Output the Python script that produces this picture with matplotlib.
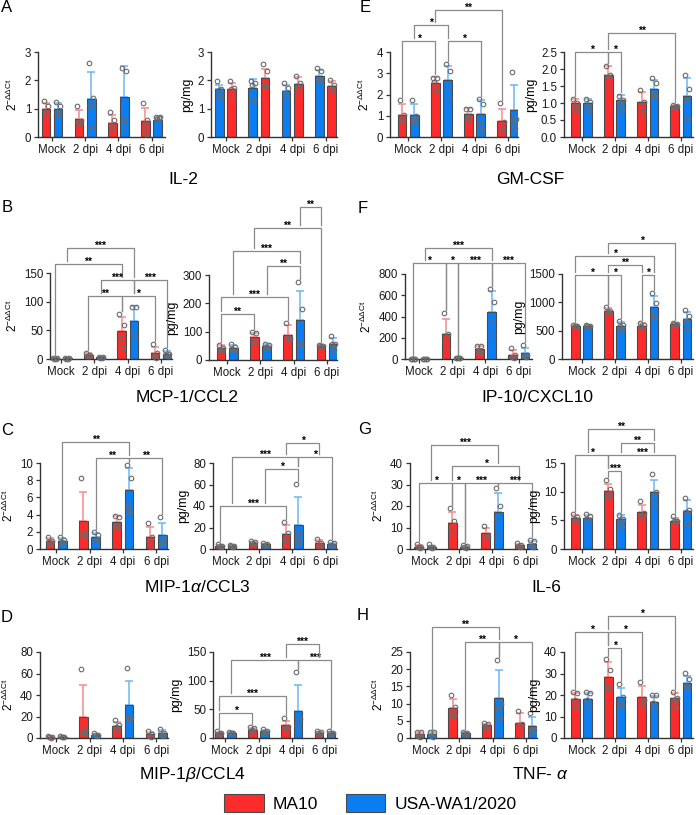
import matplotlib
matplotlib.use('Agg')
import matplotlib.pyplot as plt
from matplotlib.patches import Patch
import numpy as np

plt.rcParams['font.family'] = ['Liberation Sans', 'DejaVu Sans']
plt.rcParams['mathtext.fontset'] = 'custom'
plt.rcParams['mathtext.rm'] = 'Liberation Sans'
plt.rcParams['mathtext.it'] = 'Liberation Sans:italic'

groups = ['Mock', '2 dpi', '4 dpi', '6 dpi']

# ---- IL-2 ----
il2_pcr_ma10 = [1.0, 0.65, 0.5, 0.55]
il2_pcr_ma10_sd = [0.2, 0.3, 0.28, 0.47]
il2_pcr_ma10_pts = [[1.26, 1.1, 0.9, 0.79], [1.08, 0.55, 0.52, 0.5], [0.87, 0.59, 0.44, 0.32], [1.2, 0.61, 0.4, 0.1]]
il2_pcr_wa1 = [1.0, 1.35, 1.41, 0.61]
il2_pcr_wa1_sd = [0.2, 0.94, 1.08, 0.1]
il2_pcr_wa1_pts = [[1.25, 1.1, 0.9, 0.8], [2.6, 1.38, 1.08, 0.35], [2.44, 2.32, 0.59, 0.35], [0.7, 0.7, 0.65, 0.67]]
il2_pcr_sig = []

il2_elisa_ma10 = [1.69, 2.09, 1.88, 1.81]
il2_elisa_ma10_sd = [0.2, 0.3, 0.25, 0.15]
il2_elisa_ma10_pts = [[1.96, 1.73, 1.7, 1.4], [2.58, 2.32, 1.85, 1.81], [2.14, 1.9, 1.76, 1.55], [2.0, 1.85, 1.69, 1.67]]
il2_elisa_wa1 = [1.69, 1.73, 1.64, 2.16]
il2_elisa_wa1_sd = [0.15, 0.3, 0.2, 0.2]
il2_elisa_wa1_pts = [[1.96, 1.7, 1.67, 1.4], [1.96, 1.9, 1.85, 1.29], [1.91, 1.73, 1.55, 1.4], [2.44, 2.32, 2.02, 1.96]]
il2_elisa_sig = []

# ---- GM-CSF ----
gmcsf_pcr_ma10 = [1.05, 2.54, 1.1, 0.75]
gmcsf_pcr_ma10_sd = [0.48, 0.28, 0.26, 0.58]
gmcsf_pcr_ma10_pts = [[1.73, 1.02, 0.82, 0.74], [2.79, 2.79, 2.59, 2.2], [1.33, 1.3, 0.95, 0.82], [1.6, 0.7, 0.39, 0.35]]
gmcsf_pcr_wa1 = [1.05, 2.7, 1.1, 1.25]
gmcsf_pcr_wa1_sd = [0.48, 0.66, 0.63, 1.18]
gmcsf_pcr_wa1_pts = [[1.73, 1.0, 0.8, 0.72], [3.45, 3.1, 2.35, 1.9], [1.77, 1.57, 0.66, 0.31], [3.06, 0.86, 0.78, 0.44]]
gmcsf_pcr_sig = [(0, 2, 4.52, '*'), (1, 3, 5.25, '*'), (3, 5, 4.52, '*'), (2, 6, 5.99, '**')]

gmcsf_elisa_ma10 = [1.0, 1.83, 1.03, 0.9]
gmcsf_elisa_ma10_sd = [0.13, 0.26, 0.3, 0.03]
gmcsf_elisa_ma10_pts = [[1.13, 1.0, 0.9, 0.8], [2.1, 1.81, 1.76, 1.47], [1.39, 1.03, 0.88, 0.74], [0.93, 0.9, 0.89, 0.88]]
gmcsf_elisa_wa1 = [1.0, 1.08, 1.42, 1.2]
gmcsf_elisa_wa1_sd = [0.13, 0.16, 0.25, 0.53]
gmcsf_elisa_wa1_pts = [[1.13, 1.03, 0.9, 0.8], [1.22, 1.08, 1.0, 0.8], [1.75, 1.59, 1.27, 1.22], [1.81, 1.42, 1.08, 0.54]]
gmcsf_elisa_sig = [(0, 2, 2.5, '*'), (2, 3, 2.5, '*'), (2, 6, 3.07, '**')]

# ---- MCP-1/CCL2 ----
mcp1_pcr_ma10 = [1.0, 7.0, 48, 10.5]
mcp1_pcr_ma10_sd = [1.0, 3.0, 26, 11]
mcp1_pcr_ma10_pts = [[2.0, 1.2, 0.5, 0.3], [10.5, 7.6, 5.8, 4.7], [79, 60, 37, 19], [26, 10.5, 4.7, 1.7]]
mcp1_pcr_wa1 = [1.0, 3.0, 66, 8.7]
mcp1_pcr_wa1_sd = [0.8, 1.0, 27, 4.5]
mcp1_pcr_wa1_pts = [[1.8, 1.2, 0.6, 0.4], [4, 3.2, 2.6, 2.2], [91, 91, 45, 38], [15, 8.7, 6.4, 4.7]]
mcp1_pcr_sig = [(0, 4, 166, '**'), (1, 5, 193.6, '***'), (3, 5, 138, '***'),
                (2, 4, 110.5, '**'), (4, 6, 110.5, '*'), (5, 7, 138, '***')]

mcp1_elisa_ma10 = [43, 80.5, 90, 51]
mcp1_elisa_ma10_sd = [9, 15, 33, 3]
mcp1_elisa_ma10_pts = [[54, 43, 37, 31], [98, 96, 65, 65], [132, 78, 76, 74], [54, 51, 50, 49]]
mcp1_elisa_wa1 = [43, 49, 142, 58]
mcp1_elisa_wa1_sd = [9, 8, 100, 19]
mcp1_elisa_wa1_pts = [[56, 45, 38, 33], [58, 52, 45, 41], [277, 180, 56, 55], [83, 58, 55, 37]]
mcp1_elisa_sig = [(0, 2, 163, '**'), (0, 4, 222, '***'), (3, 5, 331, '**'),
                  (1, 5, 385, '***'), (2, 6, 466, '**'), (5, 6, 539, '**')]

# ---- IP-10/CXCL10 ----
ip10_pcr_ma10 = [2, 232, 94, 41]
ip10_pcr_ma10_sd = [1, 140, 25, 40]
ip10_pcr_ma10_pts = [[3, 2, 1.5, 1], [431, 237, 166, 94], [125, 119, 72, 62], [103, 35, 15, 10]]
ip10_pcr_wa1 = [2, 8, 444, 56]
ip10_pcr_wa1_sd = [1, 4, 200, 45]
ip10_pcr_wa1_pts = [[3, 2, 1.5, 1], [12, 9, 6, 5], [656, 541, 353, 228], [134, 40, 28, 22]]
ip10_pcr_sig = [(1, 5, 1047, '***'), (0, 2, 900, '*'), (2, 3, 900, '*'),
                (3, 5, 900, '***'), (5, 7, 900, '***')]

ip10_elisa_ma10 = [586, 850, 586, 615]
ip10_elisa_ma10_sd = [20, 45, 45, 20]
ip10_elisa_ma10_pts = [[603, 586, 580, 574], [925, 855, 838, 820], [633, 603, 574, 527], [633, 615, 610, 603]]
ip10_elisa_wa1 = [586, 586, 925, 703]
ip10_elisa_wa1_sd = [20, 60, 190, 130]
ip10_elisa_wa1_pts = [[603, 590, 580, 571], [662, 603, 574, 505], [1160, 996, 762, 750], [867, 762, 662, 521]]
ip10_elisa_sig = [(0, 2, 1482, '*'), (2, 3, 1482, '*'), (4, 5, 1482, '*'),
                  (2, 4, 1658, '**'), (0, 5, 1816, '*'), (2, 6, 2050, '*')]

# ---- MIP-1a/CCL3 ----
mip1a_pcr_ma10 = [0.97, 3.28, 3.17, 1.35]
mip1a_pcr_ma10_sd = [0.3, 3.3, 0.65, 1.2]
mip1a_pcr_ma10_pts = [[1.43, 0.97, 0.85, 0.73], [8.2, 1.9, 1.74, 1.6], [3.82, 3.74, 2.7, 2.59], [3.05, 1.35, 0.97, 0.27]]
mip1a_pcr_wa1 = [0.97, 1.43, 6.83, 1.62]
mip1a_pcr_wa1_sd = [0.3, 0.45, 2.6, 1.4]
mip1a_pcr_wa1_pts = [[1.43, 1.04, 0.85, 0.73], [2.0, 1.6, 1.04, 1.04], [9.73, 8.3, 5.0, 4.3], [3.74, 1.24, 0.66, 0.66]]
mip1a_pcr_sig = [(1, 5, 12.43, '**'), (3, 5, 10.6, '**'), (5, 7, 10.6, '**')]

mip1a_elisa_ma10 = [3.1, 5.9, 14, 5.3]
mip1a_elisa_ma10_sd = [0.8, 1.0, 8, 3]
mip1a_elisa_ma10_pts = [[4.4, 3.1, 2.8, 2.2], [7.5, 6.2, 5.3, 4.7], [25.5, 15.3, 8.4, 7.8], [9.3, 5.3, 3.7, 2.8]]
mip1a_elisa_wa1 = [3.1, 4.4, 22.4, 4.7]
mip1a_elisa_wa1_sd = [0.7, 0.6, 25.6, 1.3]
mip1a_elisa_wa1_pts = [[3.8, 3.1, 2.8, 2.2], [5.3, 4.7, 3.9, 3.4], [60.7, 14.6, 9, 6.8], [6.8, 5.3, 3.7, 3.0]]
mip1a_elisa_sig = [(0, 4, 40.2, '***'), (3, 5, 74.4, '*'), (1, 5, 85.6, '***'),
                   (5, 7, 85.6, '*'), (4, 6, 98.7, '*')]

# ---- IL-6 ----
il6_pcr_ma10 = [1.1, 12, 7.3, 1.9]
il6_pcr_ma10_sd = [0.6, 5, 2.6, 0.6]
il6_pcr_ma10_pts = [[2.2, 1.0, 0.7, 0.5], [19, 13.2, 9.2, 7.3], [10.7, 6.1, 5.8, 5.8], [2.6, 1.9, 1.4, 1.1]]
il6_pcr_wa1 = [1.1, 1.1, 17.1, 2.3]
il6_pcr_wa1_sd = [0.5, 0.4, 9, 1.5]
il6_pcr_wa1_pts = [[2.2, 1.1, 0.8, 0.5], [1.9, 1.2, 0.8, 0.5], [28.3, 20, 13.9, 6.5], [4.2, 3.9, 1.4, 1.1]]
il6_pcr_sig = [(1, 5, 48.2, '***'), (2, 6, 38.4, '*'), (0, 2, 30.7, '*'),
               (2, 3, 30.7, '*'), (3, 5, 30.7, '***'), (5, 7, 30.7, '***')]

il6_elisa_ma10 = [5.49, 10.2, 6.4, 4.96]
il6_elisa_ma10_sd = [0.5, 1.2, 1.2, 0.5]
il6_elisa_ma10_pts = [[6.1, 5.66, 5.2, 4.8], [12, 10.4, 9.5, 9.3], [8.3, 6.2, 5.8, 5.66], [5.78, 4.96, 4.8, 4.8]]
il6_elisa_wa1 = [5.49, 5.2, 9.87, 6.7]
il6_elisa_wa1_sd = [0.5, 0.8, 2.2, 1.8]
il6_elisa_wa1_pts = [[6.1, 5.8, 5.2, 4.8], [6.0, 5.2, 5.08, 4.0], [13, 10, 8.7, 7.7], [8.87, 6.8, 6.5, 4.4]]
il6_elisa_sig = [(2, 3, 13.54, '***'), (0, 2, 16.46, '*'), (2, 6, 16.46, '***'),
                 (3, 5, 18.5, '**'), (1, 5, 21, '**')]

# ---- MIP-1b/CCL4 ----
mip1b_pcr_ma10 = [1.0, 19.5, 10.9, 3.4]
mip1b_pcr_ma10_sd = [0.8, 30, 4, 2.5]
mip1b_pcr_ma10_pts = [[2, 1, 0.6, 0.4], [64.5, 7.1, 5.6, 4.6], [17, 11.8, 10.2, 7.1], [6.5, 3.4, 2, 1.2]]
mip1b_pcr_wa1 = [1.0, 3.1, 30.4, 4.6]
mip1b_pcr_wa1_sd = [0.6, 1, 23, 3]
mip1b_pcr_wa1_pts = [[1.8, 1, 0.7, 0.5], [4.6, 3.2, 2.5, 2], [65.4, 19.5, 19, 18], [8.7, 4.6, 2.5, 2]]
mip1b_pcr_sig = []

mip1b_elisa_ma10 = [9.3, 14.5, 22, 9.3]
mip1b_elisa_ma10_sd = [2, 3, 7, 2]
mip1b_elisa_ma10_pts = [[12.2, 9.3, 7.6, 7.6], [19.2, 17.4, 14.5, 12.2], [34.9, 19, 17.5, 16.5], [12.2, 10.5, 8.7, 7.6]]
mip1b_elisa_wa1 = [9.3, 12.2, 46.5, 9.3]
mip1b_elisa_wa1_sd = [2, 2, 46, 2]
mip1b_elisa_wa1_pts = [[10.5, 9.3, 8.7, 8.1], [16.3, 12.8, 11.0, 9.3], [115, 33.7, 22, 15.3], [12.2, 9.3, 8.7, 7.6]]
mip1b_elisa_sig = [(0, 2, 43.6, '*'), (0, 4, 72.7, '***'), (1, 5, 136.6, '***'),
                   (5, 7, 136.6, '***'), (4, 6, 164.5, '***')]

# ---- TNF-a ----
tnf_pcr_ma10 = [1.07, 8.65, 3.7, 4.36]
tnf_pcr_ma10_sd = [0.6, 2.7, 0.5, 2.9]
tnf_pcr_ma10_pts = [[1.74, 1.6, 0.6, 0.35], [12.4, 9, 6.9, 6.3], [4.4, 4.2, 3.5, 2.9], [7.85, 4.2, 3.7, 0.78]]
tnf_pcr_wa1 = [1.07, 1.45, 11.7, 3.4]
tnf_pcr_wa1_sd = [0.6, 0.2, 8.1, 2.6]
tnf_pcr_wa1_pts = [[1.74, 1.6, 0.6, 0.35], [1.7, 1.5, 1.3, 1.3], [22.8, 10, 8.5, 5.9], [7.3, 2.4, 2.2, 2.0]]
tnf_pcr_sig = [(1, 5, 32.3, '**'), (3, 5, 27.9, '**'), (5, 7, 27.9, '*')]

tnf_elisa_ma10 = [18, 28.4, 19, 18.5]
tnf_elisa_ma10_sd = [2.9, 6.9, 5.3, 2.2]
tnf_elisa_ma10_pts = [[21.2, 20.9, 17.7, 14.6], [36.9, 31.8, 23.7, 23.2], [26, 17.5, 16.5, 16], [21.6, 18.5, 17.7, 14.3]]
tnf_elisa_wa1 = [18, 19, 16.9, 25.6]
tnf_elisa_wa1_sd = [2.9, 4.2, 2.8, 3.1]
tnf_elisa_wa1_pts = [[21.2, 20.9, 17.7, 14.6], [25.3, 19, 16.5, 14.9], [20, 20, 16.5, 14.6], [30.3, 27.5, 24, 23.7]]
tnf_elisa_sig = [(2, 3, 42, '*'), (0, 2, 49.1, '*'), (2, 4, 49.1, '*'), (2, 6, 56.9, '*')]

RED, BLUE = '#ff2b2b', '#0b7df3'
RED_ERR, BLUE_ERR = '#f58c8c', '#6cb5f6'
OFF, BW = 0.185, 0.26
JIT = np.array([-0.06, 0.06, -0.025, 0.03])
PCR_LABEL = r'$2^{-\Delta\Delta \mathrm{Ct}}$'

W, H = 696, 815
fig = plt.figure(figsize=(W / 100, H / 100), dpi=100)


def panel(box, centers, ylim, yticks, ylabel, ma10, ma10_sd, ma10_pts,
          wa1, wa1_sd, wa1_pts, sig, wa1_first=False, fmt='{:g}'):
    x0, x1, ytop, ybot = box
    ax = fig.add_axes([x0 / W, 1 - ybot / H, (x1 - x0) / W, (ybot - ytop) / H])
    c0, c3 = centers
    ppu = (c3 - c0) / 3
    ax.set_xlim((x0 - c0) / ppu, 3 + (x1 - c3) / ppu)
    ax.set_ylim(*ylim)
    dpp = (ylim[1] - ylim[0]) / (ybot - ytop)

    series = [(ma10, ma10_sd, ma10_pts, RED, RED_ERR), (wa1, wa1_sd, wa1_pts, BLUE, BLUE_ERR)]
    if wa1_first:
        series = series[::-1]
    tops = {}
    for s, (m, sd, pts, c, ec) in enumerate(series):
        xs = np.arange(4) + (-OFF if s == 0 else OFF)
        ax.errorbar(xs, m, yerr=[np.zeros(4), sd], fmt='none', ecolor=ec,
                    elinewidth=1.1, capsize=2.6, capthick=1.1, zorder=1)
        ax.bar(xs, m, width=BW, color=c, edgecolor='#4a4a4a', linewidth=0.8, zorder=2)
        for g in range(4):
            ax.plot(xs[g] + JIT, pts[g], 'o', ms=3.3, mfc='none', mec='#6a6a6a',
                    mew=0.8, zorder=4, clip_on=False)
            tops[2 * g + s] = max(m[g] + sd[g], max(pts[g]))

    def xpos(i):
        return i // 2 + (-OFF if i % 2 == 0 else OFF)

    for (i, j, y, stars) in sig:
        legs = []
        for b in (i, j):
            xb = xpos(b)
            low = tops[b]
            for (i2, j2, y2, _) in sig:
                if y2 < y - 1e-9 and xpos(i2) - 0.01 <= xb <= xpos(j2) + 0.01:
                    low = max(low, y2)
            legs.append(low + 3 * dpp)
        ax.plot([xpos(i), xpos(i), xpos(j), xpos(j)], [legs[0], y, y, legs[1]],
                color='#8a8a8a', lw=0.9, clip_on=False, zorder=3)
        ax.annotate(stars, ((xpos(i) + xpos(j)) / 2, y), xytext=(0, -0.6),
                    textcoords='offset points', ha='center', va='baseline',
                    fontsize=7.5, fontweight='bold', annotation_clip=False)

    ax.set_xticks(range(4))
    ax.set_xticklabels(groups, fontsize=8.3)
    ax.set_yticks(yticks)
    ax.set_yticklabels([fmt.format(t) for t in yticks], fontsize=8.3)
    for side in ('top', 'right'):
        ax.spines[side].set_visible(False)
    for side in ('left', 'bottom'):
        ax.spines[side].set_color('#333333')
        ax.spines[side].set_linewidth(1.0)
    ax.tick_params(length=3, width=0.9, pad=2, color='#333333', labelcolor='#1a1a1a')
    if ylabel == 'pcr':
        ax.set_ylabel(PCR_LABEL, fontsize=8.5, labelpad=3)
    else:
        ax.set_ylabel(ylabel, fontsize=8.8, labelpad=3)
    return ax


# row 1
panel((38, 165, 52, 137), (52, 151.5), (0, 3), [0, 1, 2, 3], 'pcr',
      il2_pcr_ma10, il2_pcr_ma10_sd, il2_pcr_ma10_pts,
      il2_pcr_wa1, il2_pcr_wa1_sd, il2_pcr_wa1_pts, il2_pcr_sig)
panel((211, 337, 52, 137), (225.5, 325.5), (0, 3), [0, 1, 2, 3], 'pg/mg',
      il2_elisa_ma10, il2_elisa_ma10_sd, il2_elisa_ma10_pts,
      il2_elisa_wa1, il2_elisa_wa1_sd, il2_elisa_wa1_pts, il2_elisa_sig, wa1_first=True)
panel((390, 518, 52, 137), (408.2, 507.8), (0, 4), [0, 1, 2, 3, 4], 'pcr',
      gmcsf_pcr_ma10, gmcsf_pcr_ma10_sd, gmcsf_pcr_ma10_pts,
      gmcsf_pcr_wa1, gmcsf_pcr_wa1_sd, gmcsf_pcr_wa1_pts, gmcsf_pcr_sig)
panel((564, 693, 52, 137), (581.5, 680.8), (0, 2.5), [0, 0.5, 1, 1.5, 2, 2.5], 'pg/mg',
      gmcsf_elisa_ma10, gmcsf_elisa_ma10_sd, gmcsf_elisa_ma10_pts,
      gmcsf_elisa_wa1, gmcsf_elisa_wa1_sd, gmcsf_elisa_wa1_pts, gmcsf_elisa_sig, fmt='{:.1f}')

# row 2
panel((50, 172, 273, 359), (61, 161), (0, 150), [0, 50, 100, 150], 'pcr',
      mcp1_pcr_ma10, mcp1_pcr_ma10_sd, mcp1_pcr_ma10_pts,
      mcp1_pcr_wa1, mcp1_pcr_wa1_sd, mcp1_pcr_wa1_pts, mcp1_pcr_sig)
panel((209, 337, 275, 360), (227, 327), (0, 300), [0, 100, 200, 300], 'pg/mg',
      mcp1_elisa_ma10, mcp1_elisa_ma10_sd, mcp1_elisa_ma10_pts,
      mcp1_elisa_wa1, mcp1_elisa_wa1_sd, mcp1_elisa_wa1_pts, mcp1_elisa_sig)
panel((405, 532, 274, 359), (418.8, 518.8), (0, 800), [0, 200, 400, 600, 800], 'pcr',
      ip10_pcr_ma10, ip10_pcr_ma10_sd, ip10_pcr_ma10_pts,
      ip10_pcr_wa1, ip10_pcr_wa1_sd, ip10_pcr_wa1_pts, ip10_pcr_sig)
panel((562, 693, 274, 359), (581.5, 680.8), (0, 1500), [0, 500, 1000, 1500], 'pg/mg',
      ip10_elisa_ma10, ip10_elisa_ma10_sd, ip10_elisa_ma10_pts,
      ip10_elisa_wa1, ip10_elisa_wa1_sd, ip10_elisa_wa1_pts, ip10_elisa_sig)

# row 3
panel((40, 168, 463, 549), (56.3, 156.3), (0, 10), [0, 2, 4, 6, 8, 10], 'pcr',
      mip1a_pcr_ma10, mip1a_pcr_ma10_sd, mip1a_pcr_ma10_pts,
      mip1a_pcr_wa1, mip1a_pcr_wa1_sd, mip1a_pcr_wa1_pts, mip1a_pcr_sig)
panel((213, 337, 463, 549), (225.8, 325.5), (0, 80), [0, 20, 40, 60, 80], 'pg/mg',
      mip1a_elisa_ma10, mip1a_elisa_ma10_sd, mip1a_elisa_ma10_pts,
      mip1a_elisa_wa1, mip1a_elisa_wa1_sd, mip1a_elisa_wa1_pts, mip1a_elisa_sig)
panel((410, 537, 463, 549), (425, 525.5), (0, 40), [0, 10, 20, 30, 40], 'pcr',
      il6_pcr_ma10, il6_pcr_ma10_sd, il6_pcr_ma10_pts,
      il6_pcr_wa1, il6_pcr_wa1_sd, il6_pcr_wa1_pts, il6_pcr_sig)
panel((564, 693, 463, 549), (581.5, 680.8), (0, 15), [0, 5, 10, 15], 'pg/mg',
      il6_elisa_ma10, il6_elisa_ma10_sd, il6_elisa_ma10_pts,
      il6_elisa_wa1, il6_elisa_wa1_sd, il6_elisa_wa1_pts, il6_elisa_sig)

# row 4
panel((40, 168, 652, 738), (56.3, 156.3), (0, 80), [0, 20, 40, 60, 80], 'pcr',
      mip1b_pcr_ma10, mip1b_pcr_ma10_sd, mip1b_pcr_ma10_pts,
      mip1b_pcr_wa1, mip1b_pcr_wa1_sd, mip1b_pcr_wa1_pts, mip1b_pcr_sig)
panel((213, 337, 652, 738), (225.3, 325), (0, 150), [0, 50, 100, 150], 'pg/mg',
      mip1b_elisa_ma10, mip1b_elisa_ma10_sd, mip1b_elisa_ma10_pts,
      mip1b_elisa_wa1, mip1b_elisa_wa1_sd, mip1b_elisa_wa1_pts, mip1b_elisa_sig)
panel((410, 537, 652, 738), (425.5, 526), (0, 25), [0, 5, 10, 15, 20, 25], 'pcr',
      tnf_pcr_ma10, tnf_pcr_ma10_sd, tnf_pcr_ma10_pts,
      tnf_pcr_wa1, tnf_pcr_wa1_sd, tnf_pcr_wa1_pts, tnf_pcr_sig)
panel((564, 693, 652, 738), (581.5, 680.8), (0, 40), [0, 10, 20, 30, 40], 'pg/mg',
      tnf_elisa_ma10, tnf_elisa_ma10_sd, tnf_elisa_ma10_pts,
      tnf_elisa_wa1, tnf_elisa_wa1_sd, tnf_elisa_wa1_pts, tnf_elisa_sig)

# titles and panel letters
titles = [('IL-2', 183, 179), ('GM-CSF', 530, 179),
          ('MCP-1/CCL2', 187, 397), ('IP-10/CXCL10', 537, 397),
          (r'MIP-1$\alpha$/CCL3', 197, 587), ('IL-6', 546, 587),
          (r'MIP-1$\beta$/CCL4', 192, 774), (r'TNF- $\alpha$', 540, 774)]
for t, x, y in titles:
    fig.text(x / W, 1 - y / H, t, ha='center', va='center', fontsize=12.5)

letters = [('A', 7, 8), ('E', 365, 8), ('B', 7, 207), ('F', 363, 208),
           ('C', 7, 431), ('G', 365, 430), ('D', 7, 617), ('H', 363, 615)]
for t, x, y in letters:
    fig.text(x / W, 1 - y / H, t, ha='center', va='center', fontsize=12)

handles = [Patch(facecolor=RED, edgecolor='#4a4a4a', linewidth=0.8),
           Patch(facecolor=BLUE, edgecolor='#4a4a4a', linewidth=0.8)]
fig.legend(handles, ['MA10', 'USA-WA1/2020'], loc='center', bbox_to_anchor=(370 / W, 1 - 803 / H),
           ncol=2, frameon=False, fontsize=12.5, handlelength=2.3, handleheight=1.2,
           handletextpad=0.5, columnspacing=1.6)

fig.savefig('out.png', dpi=100)
